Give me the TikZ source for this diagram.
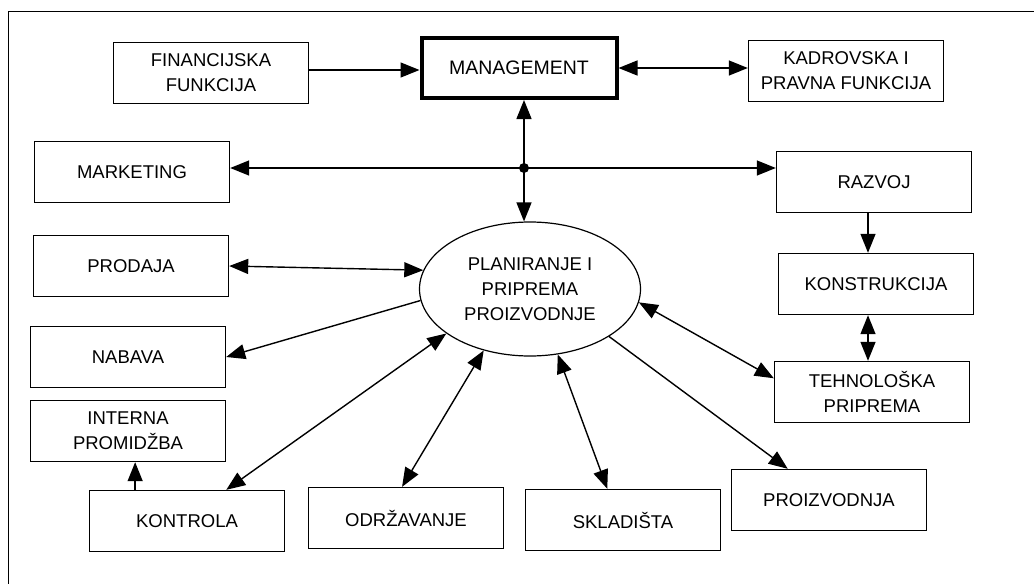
\documentclass[tikz,border=0pt]{standalone}
\usepackage{fontspec}
\setmainfont{Liberation Sans}
\newcommand\afnt{\fontsize{18.5}{25}\selectfont}
\usetikzlibrary{arrows.meta,shapes.geometric,calc}
\begin{document}
\begin{tikzpicture}[x=1pt,y=-1pt,
  >={Triangle[length=19pt,width=15pt]},
  box/.style={draw, line width=1.4pt, minimum width=195pt, minimum height=61pt, inner sep=0pt, align=center, font=\afnt},
  conn/.style={line width=1.4pt}]
\useasboundingbox (0,0) rectangle (1034,584);
\draw[line width=1.3pt] (1034,11.5) -- (8.5,11.5) -- (8.5,584);

\node[box] (fin) at (211,73) {FINANCIJSKA\\FUNKCIJA};
\node[box, line width=4pt, minimum width=195pt, minimum height=60pt, font=\fontsize{19.5}{25}\selectfont] (mgmt) at (519,68) {MANAGEMENT};
\node[box] (kadr) at (846,71) {KADROVSKA I\\PRAVNA FUNKCIJA};
\node[box] (mark) at (132,172) {MARKETING};
\node[box] (razvoj) at (874,182) {RAZVOJ};
\node[box] (prodaja) at (131,266) {PRODAJA};
\node[box] (konst) at (876,284) {KONSTRUKCIJA};
\node[box] (tehno) at (872,392) {TEHNOLOŠKA\\PRIPREMA};
\node[box] (nabava) at (128,357) {NABAVA};
\node[box] (interna) at (128,431) {INTERNA\\PROMIDŽBA};
\node[box] (kontrola) at (187,521) {KONTROLA};
\node[box] (odr) at (406,518) {ODRŽAVANJE};
\node[box] (sklad) at (623,520) {SKLADIŠTA};
\node[box] (proiz) at (829,500) {PROIZVODNJA};
\node[ellipse, draw, line width=1.2pt, minimum width=221pt, minimum height=134pt, inner sep=0pt, align=center, font=\afnt] (ell) at (530,289) {PLANIRANJE I\\PRIPREMA\\PROIZVODNJE};

\coordinate (j) at (524,168);
\draw[conn,->] ([yshift=3pt]fin.east) -- ([yshift=3pt]fin.east -| mgmt.west);
\draw[conn,<->] (mgmt.east) -- (mgmt.east -| kadr.west);
\draw[conn,->] (j) -- (j |- mgmt.south);
\draw[conn,->] (j) -- (j |- ell.north);
\draw[conn,->] (j) -- (j -| mark.east);
\draw[conn,->] (j) -- (j -| razvoj.west);
\fill (j) circle (5pt);

\coordinate (rk) at ([xshift=-6pt]razvoj.south);
\draw[conn,->] (rk) -- (rk |- konst.north);
\coordinate (kt) at ([xshift=-8pt]konst.south);
\draw[conn,<->] (kt) -- (kt |- tehno.north);

\draw[conn,<->] (prodaja.east) -- (ell.170);
\draw[conn,->] (ell.186) -- (nabava.east);
\draw[conn,<->] ($(kontrola.north west)!0.7!(kontrola.north east)$) -- (ell.208);
\draw[conn,<->] ($(odr.north west)!0.48!(odr.north east)$) -- (ell.233);
\draw[conn,<->] ($(sklad.north west)!0.42!(sklad.north east)$) -- (ell.293);
\draw[conn,->] (ell.329) -- ($(proiz.north west)!0.29!(proiz.north east)$);
\draw[conn,<->] (ell.353) -- ($(tehno.north west)!0.28!(tehno.south west)$);

\coordinate (ki) at ($(kontrola.north west)!0.236!(kontrola.north east)$);
\draw[conn,->] (ki) -- (ki |- interna.south);
\end{tikzpicture}
\end{document}
